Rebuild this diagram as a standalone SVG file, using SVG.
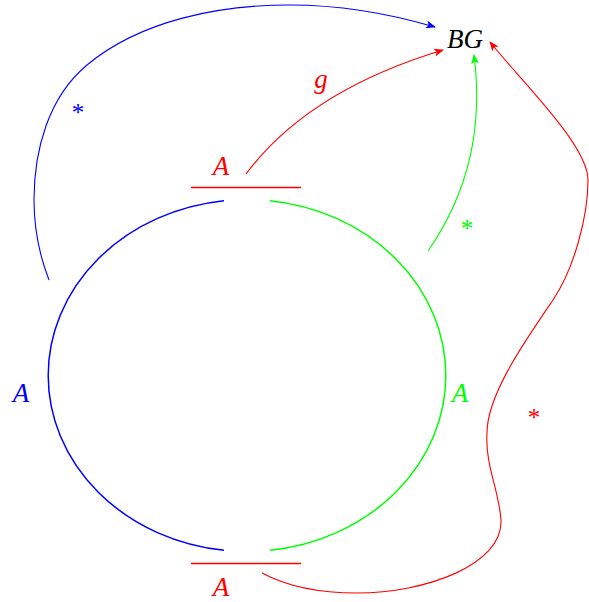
<svg xmlns="http://www.w3.org/2000/svg" width="589" height="602" viewBox="0 0 589 602">
<style>
.l{fill:none;stroke-width:1.1}
.r{fill:none;stroke-width:1.5}
.t{font-family:"Liberation Serif","DejaVu Serif",serif;font-style:italic;font-size:27px;text-anchor:middle}
.s{font-family:"Liberation Serif","DejaVu Serif",serif;font-size:25px;text-anchor:middle}
</style>
<defs>
<marker id="ab" viewBox="0 0 10 8" refX="9" refY="4" markerWidth="10" markerHeight="8" markerUnits="userSpaceOnUse" orient="auto"><path d="M0,0 L10,4 L0,8 L2.5,4 Z" fill="#0000ff"/></marker>
<marker id="ar" viewBox="0 0 10 8" refX="9" refY="4" markerWidth="10" markerHeight="8" markerUnits="userSpaceOnUse" orient="auto"><path d="M0,0 L10,4 L0,8 L2.5,4 Z" fill="#ff0000"/></marker>
<marker id="ag" viewBox="0 0 10 8" refX="9" refY="4" markerWidth="10" markerHeight="8" markerUnits="userSpaceOnUse" orient="auto"><path d="M0,0 L10,4 L0,8 L2.5,4 Z" fill="#00ff00"/></marker>
</defs>
<g id="ring">
<path class="r" stroke="#0000ff" d="M224,200.7 A199,176 0 0 0 224,550.3"/>
<path class="r" stroke="#00ff00" d="M270,200.7 A199,176 0 0 1 270,550.3"/>
<line class="r" stroke="#ff0000" x1="191" y1="187.5" x2="301" y2="187.5"/>
<line class="r" stroke="#ff0000" x1="191" y1="563.5" x2="301" y2="563.5"/>
</g>
<g id="nodeBG"><text class="t" x="465" y="48">BG</text></g>
<g id="labelA-top"><text class="t" x="221" y="175" fill="#ff0000">A</text></g>
<g id="labelA-bottom"><text class="t" x="221" y="596" fill="#ff0000">A</text></g>
<g id="labelA-left"><text class="t" x="21" y="402" fill="#0000ff">A</text></g>
<g id="labelA-right"><text class="t" x="460" y="402" fill="#00ff00">A</text></g>
<g id="connectors">
<path class="l" stroke="#0000ff" marker-end="url(#ab)" d="M49,280 C39.3,255 34,227 34,200 C34,150 48.5,97 87,65 C141,20 220,5 290,5 C340,5 387,13 435,27"/>
<path class="l" stroke="#ff0000" marker-end="url(#ar)" d="M246,174 C290,115 360,75 443,50"/>
<path class="l" stroke="#00ff00" marker-end="url(#ag)" d="M428,251 C460,205 485,140 474,55"/>
<path class="l" stroke="#ff0000" marker-end="url(#ar)" d="M262,573 C290,588 325,593 357,593 C425,593 503,565 501,520 C499,490 485,465 487,433 C487,395 525,341 553,300 C575,267 588,215 588,180 C588,145 521,81 490,42"/>
<text class="t" x="321" y="88" fill="#ff0000">g</text>
<text class="s" x="78" y="121" fill="#0000ff">*</text>
<text class="s" x="467" y="237" fill="#00ff00">*</text>
<text class="s" x="534" y="426" fill="#ff0000">*</text>
</g>
</svg>
